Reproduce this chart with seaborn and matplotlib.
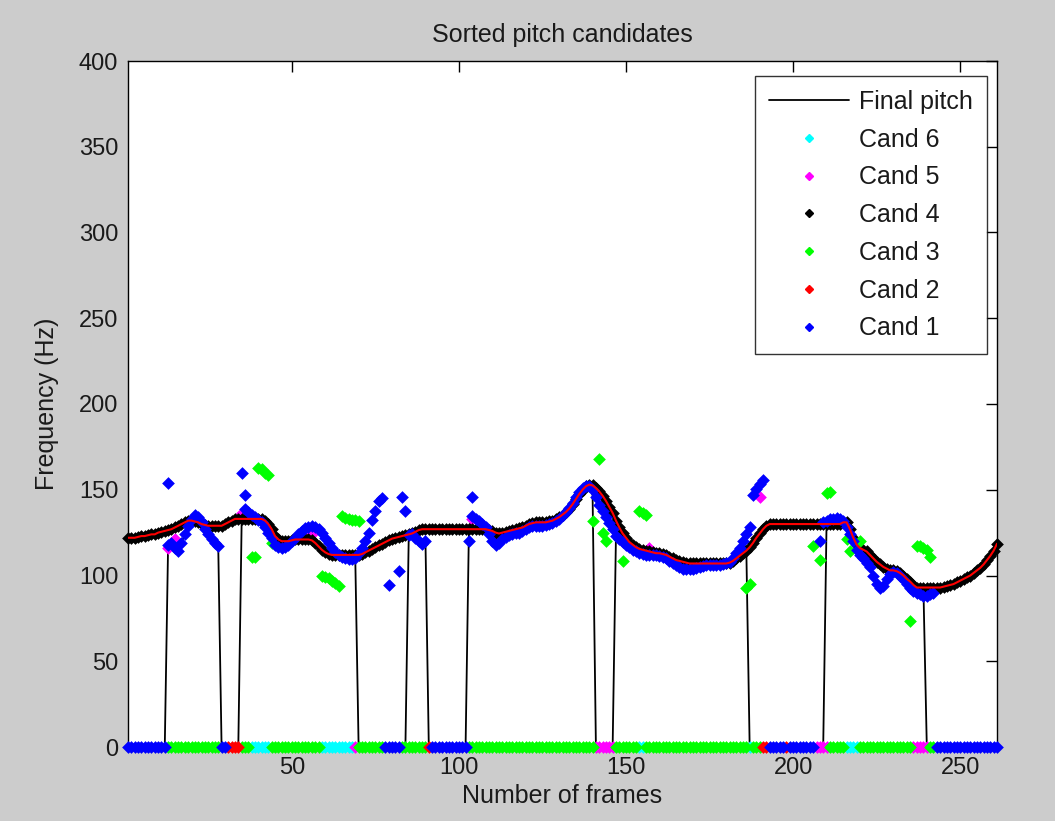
import numpy as np
import pandas as pd
import matplotlib
matplotlib.use("Agg")
import matplotlib.pyplot as plt
from matplotlib.lines import Line2D
import seaborn as sns

N = None
# ---------------- data ----------------
frames = list(range(1, 262))

# smoothed pitch contour (black "Cand 4" band with red line on top)
contour = [
    122, 122, 122, 122.5, 123, 123, 123.5, 124, 124, 125,
    125.5, 126, 126.5, 127, 128, 129, 130, 131, 132, 132,
    131.5, 131, 130, 129.5, 129, 129, 129, 129, 129, 130,
    131, 132, 133, 133, 133, 133, 133, 133, 133, 133,
    133, 132, 130, 127, 123, 121, 120, 120, 120, 120.5,
    121, 121, 121, 121, 121, 120.5, 119, 117, 115, 113.5,
    112.5, 112, 112, 112, 112, 112, 112, 112, 112, 112,
    112.5, 113.5, 114.5, 115.5, 116.5, 117.5, 118.5, 119.5, 120.5, 121.5,
    122, 122.5, 123, 123.5, 124, 124.5, 125.5, 126.5, 127, 127,
    127, 127, 127, 127, 127, 127, 127, 127, 127, 127,
    127, 127, 127, 127, 127, 127, 127, 127, 126.5, 126,
    125, 124.5, 125, 125.5, 126, 126.5, 127, 127.5, 128, 129,
    130, 130.5, 131, 131, 131, 131, 131.5, 132, 133, 134,
    135.5, 137, 139, 141.5, 144.5, 147.5, 150, 152, 153, 152.5,
    151, 149, 146.5, 143.5, 140, 136.5, 132, 128, 124.5, 122,
    119.5, 118, 116.5, 115.5, 115, 114.5, 114, 113.5, 113, 113,
    112.5, 112, 111, 110, 109, 108.5, 108, 107.5, 107, 107,
    107, 107, 107, 107, 107, 107, 107, 107, 107, 107,
    107.5, 108.5, 110, 111.5, 113, 114.5, 116.5, 119, 122, 124.5,
    127, 129, 130, 130, 130, 130, 130, 130, 130, 130,
    130, 130, 130, 130, 130, 130, 130, 130, 130, 130,
    130, 130, 130, 130, 131, 131, 127, 122, 118, 116,
    115, 114, 112, 110, 108, 106.5, 105, 104, 103, 103,
    102.5, 101.5, 100, 98, 96.5, 94.5, 93, 93, 93, 93,
    93, 93, 93, 93, 93.5, 94, 94.5, 95, 96, 97,
    98, 99, 100, 101.5, 103, 104.5, 106.5, 109, 111.5, 114.5,
    118.5,
]

# Cand 1 (blue) non-zero values per frame (None = no point)
cand1 = [
    N, N, N, N, N, N, N, N, N, N,
    N, N, 118, 119, 116, 114, 119, 124, 129, 133,
    135, 134, 131, 127, 124, 121, 119, 117, N, N,
    N, N, N, N, N, 139, 137, 135.5, 134, 132.5,
    131, 128, 125, 122, 118, 116.5, 116, 116.5, 118, 120,
    122, 124, 126, 127.5, 128.5, 129, 128.5, 127, 125, 122,
    119, 116, 113.5, 112, 111, 110, 109.5, 109.5, 110, 113,
    116, 120, 125, 132.5, 137.5, 143.5, 145, N, N, N,
    N, N, 145.5, 137.5, 123.5, 124, 122, 120, 118.5, 120,
    N, N, N, N, N, N, N, N, N, N,
    N, N, 120, 134.5, 133, 132, 130, 128, 124, 120,
    118, 119, 121, 122.5, 123.5, 124, 124.5, 125, 126, 127,
    128, 129, 129, 129, 129, 129.5, 130, 130.5, 131.5, 133,
    135, 137, 139.5, 142.5, 145.5, 148.5, 151, 152, 152, 150,
    146, 141, 137.5, 134, 130.5, 127, 123, 121, 119.5, 118,
    116.5, 115, 114, 113, 112.5, 112, 112, 112, 112, 111.5,
    111, 110, 108.5, 107, 106, 105, 104, 103.5, 103.5, 104,
    104.5, 105, 105.5, 106, 106, 106, 106, 106, 106.5, 107,
    108, 110, 113, 116, 120, 124, 128, 147, 150.5, 153.5,
    155.5, N, N, N, N, N, N, N, N, N,
    N, N, N, N, N, N, N, 120, 131, 132,
    133, 133, 133.5, 133, 132, 128, 124, 120, 115, 112,
    110, 107, 105, 100, 95, 93, 94, 98, 101, 102,
    101.5, 100, 98, 95, 93, 91, 90, 89, 88, 88,
    89, 90, N, N, N, N, N, N, N, N,
    N, N, N, N, N, N, N, N, N, N,
    N,
]
cand1_extra_frames = [13, 35, 36, 79, 82, 104]
cand1_extra_values = [154, 159.5, 147, 94.5, 102.5, 145.5]

cand3_frames = [38, 39, 40, 41, 42, 43, 44, 59, 60, 61, 62, 63, 64,
                65, 66, 67, 68, 69, 70, 140, 142, 143, 144, 149, 154, 155, 156,
                186, 187, 206, 208, 210, 211, 216, 217, 220,
                235, 237, 238, 239, 240, 241]
cand3_values = [110.5, 110.5, 162.5, 162, 160, 158.5, 119, 99.5, 99, 98.5, 97, 95.5, 94,
                134.5, 133.5, 133, 132.5, 132.5, 132, 132, 168, 125, 120, 108.5, 137.5, 136.5, 135,
                93, 95, 117, 109, 148, 148.5, 121, 114, 120,
                73.5, 117, 117, 116, 115, 111]

cand5_frames = [13, 15, 35, 56, 104, 157, 190]
cand5_values = [116, 121, 136.5, 124, 133, 116, 146]

# frames where the final pitch is voiced, and its values at the jumps
voiced_runs = [(13, 28), (35, 69), (85, 90), (103, 140), (147, 186), (210, 239)]
final_edges = {35: 131, 103: 127, 140: 147, 147: 124, 186: 115, 210: 130, 239: 91}

# colour visible on the zero line: (candidate, first frame, last frame)
zero_runs = [(1, 1, 12), (3, 13, 28), (1, 29, 30), (2, 31, 34), (3, 35, 37),
             (6, 38, 43), (3, 44, 58), (6, 59, 68), (5, 69, 69), (3, 70, 77),
             (1, 78, 82), (3, 83, 90), (2, 91, 91), (1, 92, 102), (3, 103, 140),
             (5, 141, 146), (3, 147, 153), (6, 154, 155), (3, 156, 186),
             (6, 187, 187), (3, 188, 190), (2, 191, 192), (1, 193, 197),
             (2, 198, 198), (1, 199, 206), (5, 207, 210), (3, 211, 215),
             (6, 216, 219), (3, 220, 235), (5, 236, 240), (3, 241, 242),
             (1, 243, 261)]

cand_colors = {1: "#0000ff", 2: "#ff0000", 3: "#00ff00", 4: "#000000",
               5: "#ff00ff", 6: "#00ffff"}

# ---------------- build tables ----------------
fr = np.array(frames)
contour_a = np.array(contour, dtype=float)
cand1_a = np.array([np.nan if v is None else v for v in cand1], dtype=float)

final = np.zeros(len(fr))
for a, b in voiced_runs:
    for f in range(a, b + 1):
        final[f - 1] = cand1_a[f - 1]
for f, v in final_edges.items():
    final[f - 1] = v

zero_rows = []
for c, a, b in zero_runs:
    for f in range(a, b + 1):
        zero_rows.append((f, c))
zero_df = pd.DataFrame(zero_rows, columns=["frame", "cand"])
zero_df["value"] = 0.0

pts = {k: pd.DataFrame({"frame": [], "value": []}) for k in range(1, 7)}
pts[1] = pd.DataFrame({"frame": list(fr[~np.isnan(cand1_a)]) + cand1_extra_frames,
                       "value": list(cand1_a[~np.isnan(cand1_a)]) + cand1_extra_values})
pts[3] = pd.DataFrame({"frame": cand3_frames, "value": cand3_values})
pts[4] = pd.DataFrame({"frame": fr, "value": contour_a})
pts[5] = pd.DataFrame({"frame": cand5_frames, "value": cand5_values})

# ---------------- draw ----------------
sns.set_theme(style="white")
plt.rcParams["font.family"] = ["Liberation Sans", "DejaVu Sans"]
txt = "#1a1a1a"

fig = plt.figure(figsize=(10.55, 8.21), dpi=100, facecolor="#cccccc")
ax = fig.add_axes([128 / 1055, 1 - 747 / 821, (997 - 128) / 1055, (747 - 61) / 821])
ax.set_facecolor("white")

sns.lineplot(x=fr, y=final, color="black", lw=1.3, ax=ax, estimator=None,
             sort=False, zorder=1, legend=False)

msize = 42
for k in [6, 5, 4, 3, 2, 1]:
    d = pd.concat([pts[k], zero_df.loc[zero_df["cand"] == k, ["frame", "value"]]])
    if len(d) == 0:
        continue
    sns.scatterplot(data=d, x="frame", y="value", color=cand_colors[k], marker="D",
                    s=msize, linewidth=0, ax=ax, zorder=2 + (6 - k), legend=False,
                    clip_on=False)

sns.lineplot(x=fr, y=contour_a, color="red", lw=1.5, ax=ax, estimator=None,
             sort=False, zorder=20, legend=False)

ax.set_xlim(1, 261)
ax.set_ylim(0, 400)
ax.set_xticks([50, 100, 150, 200, 250])
ax.set_yticks(np.arange(0, 401, 50))
ax.tick_params(direction="in", length=8, width=1, top=True, right=True,
               labelsize=17, pad=7, colors="black", labelcolor=txt)
for s in ax.spines.values():
    s.set_color("black")
    s.set_linewidth(1.0)
    s.set_zorder(0.5)

ax.set_title("Sorted pitch candidates", fontsize=18, color=txt, pad=14)
ax.set_xlabel("Number of frames", fontsize=18, color=txt, labelpad=4)
ax.set_ylabel("Frequency (Hz)", fontsize=18, color=txt, labelpad=14)

handles = [Line2D([], [], color="black", lw=1.3, label="Final pitch")]
for k in [6, 5, 4, 3, 2, 1]:
    handles.append(Line2D([], [], color=cand_colors[k], marker="D", ms=4.5,
                          lw=0, label=f"Cand {k}"))
leg = ax.legend(handles=handles, loc="upper right", bbox_to_anchor=(0.988, 0.978),
                borderaxespad=0, fontsize=18, frameon=True, fancybox=False,
                edgecolor="black", handlelength=3.2, handletextpad=0.4,
                labelspacing=0.55, borderpad=0.55)
leg.get_frame().set_linewidth(1.0)
leg.set_zorder(30)
for t in leg.get_texts():
    t.set_color(txt)

fig.savefig("out.png", dpi=100, facecolor=fig.get_facecolor())
